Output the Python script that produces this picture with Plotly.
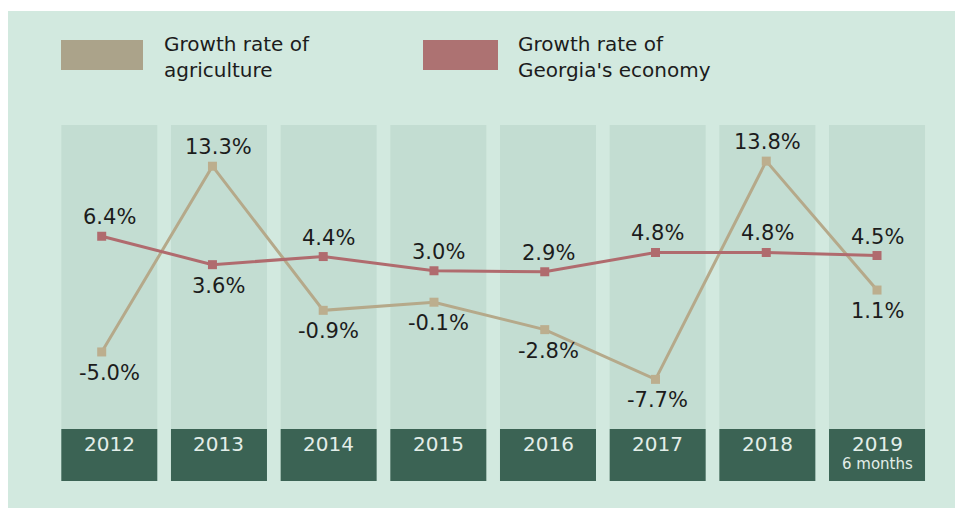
import plotly.graph_objects as go

# Annual growth rates (%)
years = ["2012", "2013", "2014", "2015", "2016", "2017", "2018", "2019"]
year_notes = ["", "", "", "", "", "", "", "6 months"]
agriculture = [-5.0, 13.3, -0.9, -0.1, -2.8, -7.7, 13.8, 1.1]
economy = [6.4, 3.6, 4.4, 3.0, 2.9, 4.8, 4.8, 4.5]
# label placement: +1 above the point, -1 below it
agri_side = [-1, 1, -1, -1, -1, -1, 1, -1]
econ_side = [1, -1, 1, 1, 1, 1, 1, 1]

AGRI = "#b5a98a"
ECON = "#b06b6e"
PANEL = "#d2e9df"
COLUMN = "#c3ddd2"
DARK = "#3b6354"
TEXT = "#1c1c1c"
FONT = "DejaVu Sans"

idx = list(range(len(years)))
fig = go.Figure()

fig.add_trace(go.Scatter(
    x=idx, y=agriculture, xaxis="x2", yaxis="y", mode="lines+markers",
    line=dict(color=AGRI, width=3), marker=dict(symbol="square", size=9, color="#bcae8e"),
    name="Growth rate of agriculture", showlegend=False, hoverinfo="skip"))
fig.add_trace(go.Scatter(
    x=idx, y=economy, xaxis="x2", yaxis="y", mode="lines+markers",
    line=dict(color=ECON, width=3), marker=dict(symbol="square", size=9, color=ECON),
    name="Growth rate of Georgia's economy", showlegend=False, hoverinfo="skip"))

shapes = [dict(type="rect", xref="paper", yref="paper", x0=0.0084, x1=1.0, y0=-0.27, y1=1.375,
               fillcolor=PANEL, line=dict(width=0), layer="below")]
annotations = []
half = 0.4377
for i, yr in enumerate(years):
    shapes.append(dict(type="rect", xref="x", yref="paper", x0=i - half, x1=i + half, y0=0, y1=1,
                       fillcolor=COLUMN, line=dict(width=0), layer="below"))
    shapes.append(dict(type="rect", xref="x", yref="paper", x0=i - half, x1=i + half, y0=-0.171, y1=0,
                       fillcolor=DARK, line=dict(width=0), layer="below"))
    annotations.append(dict(x=i, y=0, xref="x", yref="paper", text=yr, showarrow=False,
                            yanchor="middle", yshift=-15,
                            font=dict(family=FONT, size=20, color="#e3eee9")))
    if year_notes[i]:
        annotations.append(dict(x=i, y=0, xref="x", yref="paper", text=year_notes[i], showarrow=False,
                                yanchor="middle", yshift=-35,
                                font=dict(family=FONT, size=15, color="#e3eee9")))

for series, sides in ((agriculture, agri_side), (economy, econ_side)):
    for i, (v, s) in enumerate(zip(series, sides)):
        annotations.append(dict(x=i, y=v, xref="x", yref="y", text=f"{v:.1f}%", showarrow=False,
                                yanchor="middle", yshift=19 if s > 0 else -21,
                                font=dict(family=FONT, size=21, color=TEXT)))

# legend swatches and captions
legend_items = [("Growth rate of<br>agriculture", "#aba38a", 61, 143, 162),
                ("Growth rate of<br>Georgia's economy", "#ad7272", 423, 498, 516)]
for label, col, px0, px1, tx in legend_items:
    shapes.append(dict(type="rect", xref="paper", yref="paper", x0=px0 / 955, x1=px1 / 955,
                       y0=(429 - 70) / 304, y1=(429 - 40) / 304,
                       fillcolor=col, line=dict(width=0)))
    annotations.append(dict(x=tx / 955, y=(429 - 57) / 304, xref="paper", yref="paper", text=label,
                            showarrow=False, xanchor="left", yanchor="middle", align="left",
                            font=dict(family=FONT, size=20, color=TEXT)))

fig.update_layout(
    width=955, height=508,
    margin=dict(l=0, r=0, t=125, b=79),
    paper_bgcolor="white", plot_bgcolor="rgba(0,0,0,0)",
    xaxis=dict(range=[-0.9966, 7.711], visible=False, fixedrange=True),
    xaxis2=dict(range=[-0.9182, 7.704], overlaying="x", visible=False, fixedrange=True),
    yaxis=dict(range=[-12.59, 17.36], visible=False, fixedrange=True),
    shapes=shapes, annotations=annotations, showlegend=False,
)

fig.write_html("out.html")
